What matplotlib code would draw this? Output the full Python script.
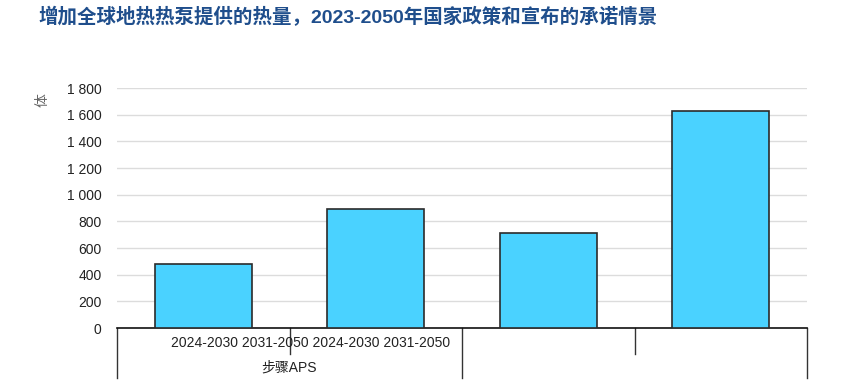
import matplotlib
matplotlib.use("Agg")
import matplotlib.pyplot as plt
import matplotlib.transforms as mtransforms

plt.rcParams['font.family'] = ['Liberation Sans', 'Noto Sans CJK SC', 'DejaVu Sans']

# data
values = [480, 890, 710, 1625]
positions = [0, 1, 2, 3]
period_labels = ["2024-2030", "2031-2050", "2024-2030", "2031-2050"]
group_label = "步骤APS"
yticks = [0, 200, 400, 600, 800, 1000, 1200, 1400, 1600, 1800]
title = "增加全球地热热泵提供的热量，2023-2050年国家政策和宣布的承诺情景"
unit = "体"

fig = plt.figure(figsize=(8.64, 3.85), dpi=100)
ax = fig.add_axes([117/864, 1 - 328/385, 690/864, 240/385])

ax.bar(positions, values, width=0.56, color='#4ad2ff', edgecolor='#2b2b2b', linewidth=1.2, zorder=3)

ax.set_xlim(-0.5, 3.5)
ax.set_ylim(0, 1800)
ax.set_yticks(yticks)
ax.set_yticklabels([f"{v:,}".replace(",", " ") for v in yticks], fontsize=10, color='#222222')
ax.tick_params(axis='y', length=0, pad=11)
ax.set_xticks([])
ax.grid(axis='y', color='#dcdcdc', linewidth=1, zorder=0)
for s in ['left', 'right', 'top']:
    ax.spines[s].set_visible(False)
ax.spines['bottom'].set_color('#111111')
ax.spines['bottom'].set_linewidth(1.2)

# category separators under the axis
trans = mtransforms.blended_transform_factory(ax.transData, ax.transAxes)
for x, depth in [(-0.5, -0.21), (0.5, -0.11), (1.5, -0.21), (2.5, -0.11), (3.5, -0.21)]:
    ax.plot([x, x], [0, depth], color='#333333', linewidth=1, transform=trans, clip_on=False)

ax.text(0.62, -0.063, " ".join(period_labels), transform=trans, ha='center', va='center',
        fontsize=10, color='#222222')
ax.text(0.5, -0.163, group_label, transform=trans, ha='center', va='center',
        fontsize=10, color='#222222')

fig.text(43/864, 1 - 100/385, unit, rotation=90, ha='center', va='center', fontsize=10, color='#666666')
fig.text(38/864, 1 - 17/385, title, ha='left', va='center', fontsize=14, fontweight='bold', color='#1f4e8c')

fig.savefig("out.png", dpi=100)
